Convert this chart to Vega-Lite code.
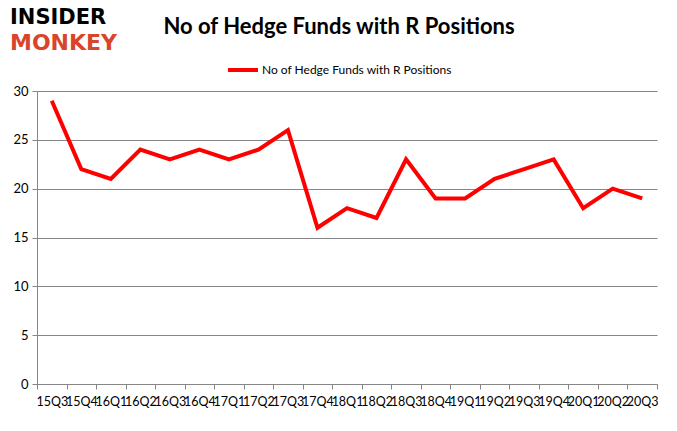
{
  "$schema": "https://vega.github.io/schema/vega-lite/v6.json",
  "autosize": "none",
  "width": 620,
  "height": 293,
  "padding": {"left": 37, "top": 91, "right": 20, "bottom": 47},
  "background": "white",
  "title": {
    "text": "No of Hedge Funds with R Positions",
    "font": "Lato",
    "fontSize": 22,
    "fontWeight": "bold",
    "color": "#000000",
    "anchor": "middle",
    "frame": "group",
    "dx": -8,
    "offset": -32
  },
  "config": {
    "view": {"stroke": null},
    "font": "Lato"
  },
  "layer": [
    {
      "data": {
        "values": [
          {"quarter": "15Q3", "funds": 29},
          {"quarter": "15Q4", "funds": 22},
          {"quarter": "16Q1", "funds": 21},
          {"quarter": "16Q2", "funds": 24},
          {"quarter": "16Q3", "funds": 23},
          {"quarter": "16Q4", "funds": 24},
          {"quarter": "17Q1", "funds": 23},
          {"quarter": "17Q2", "funds": 24},
          {"quarter": "17Q3", "funds": 26},
          {"quarter": "17Q4", "funds": 16},
          {"quarter": "18Q1", "funds": 18},
          {"quarter": "18Q2", "funds": 17},
          {"quarter": "18Q3", "funds": 23},
          {"quarter": "18Q4", "funds": 19},
          {"quarter": "19Q1", "funds": 19},
          {"quarter": "19Q2", "funds": 21},
          {"quarter": "19Q3", "funds": 22},
          {"quarter": "19Q4", "funds": 23},
          {"quarter": "20Q1", "funds": 18},
          {"quarter": "20Q2", "funds": 20},
          {"quarter": "20Q3", "funds": 19}
        ]
      },
      "mark": {"type": "line", "strokeWidth": 4, "strokeJoin": "miter"},
      "encoding": {
        "x": {
          "field": "quarter",
          "type": "ordinal",
          "sort": null,
          "bandPosition": 0.5,
          "scale": {"type": "band", "paddingInner": 0, "paddingOuter": 0},
          "axis": {
            "title": null,
            "labelAngle": 0,
            "labelOverlap": false,
            "labelFontSize": 12.5,
            "labelColor": "#000000",
            "labelPadding": 6,
            "tickBand": "extent",
            "tickSize": 5,
            "tickColor": "#868686",
            "domainColor": "#868686",
            "grid": false
          }
        },
        "y": {
          "field": "funds",
          "type": "quantitative",
          "scale": {"domain": [0, 30], "nice": false},
          "axis": {
            "title": null,
            "values": [0, 5, 10, 15, 20, 25, 30],
            "labelFontSize": 13,
            "labelColor": "#000000",
            "labelPadding": 4,
            "tickSize": 5,
            "tickColor": "#868686",
            "domainColor": "#868686",
            "gridColor": "#868686",
            "gridWidth": 1
          }
        },
        "color": {
          "datum": "No of Hedge Funds with R Positions",
          "scale": {"range": ["#FF0000"]},
          "legend": {
            "title": null,
            "orient": "none",
            "legendX": 189,
            "legendY": -38,
            "symbolType": "stroke",
            "symbolSize": 900,
            "symbolStrokeWidth": 4,
            "labelFontSize": 12,
            "labelLimit": 400,
            "labelColor": "#000000",
            "labelOffset": 2
          }
        }
      }
    },
    {
      "data": {"values": [{"logo": "INSIDER"}]},
      "mark": {"type": "text", "font": "DejaVu Sans", "fontWeight": "bold", "fontSize": 21, "align": "left", "baseline": "middle", "dx": -27, "color": "#000000"},
      "encoding": {
        "text": {"field": "logo"},
        "x": {"datum": "15Q3", "bandPosition": 0},
        "y": {"datum": 37.5}
      }
    },
    {
      "data": {"values": [{"logo": "MONKEY"}]},
      "mark": {"type": "text", "font": "DejaVu Sans", "fontWeight": "bold", "fontSize": 22, "align": "left", "baseline": "middle", "dx": -27, "color": "#D9452B"},
      "encoding": {
        "text": {"field": "logo"},
        "x": {"datum": "15Q3", "bandPosition": 0},
        "y": {"datum": 34.9}
      }
    }
  ]
}
